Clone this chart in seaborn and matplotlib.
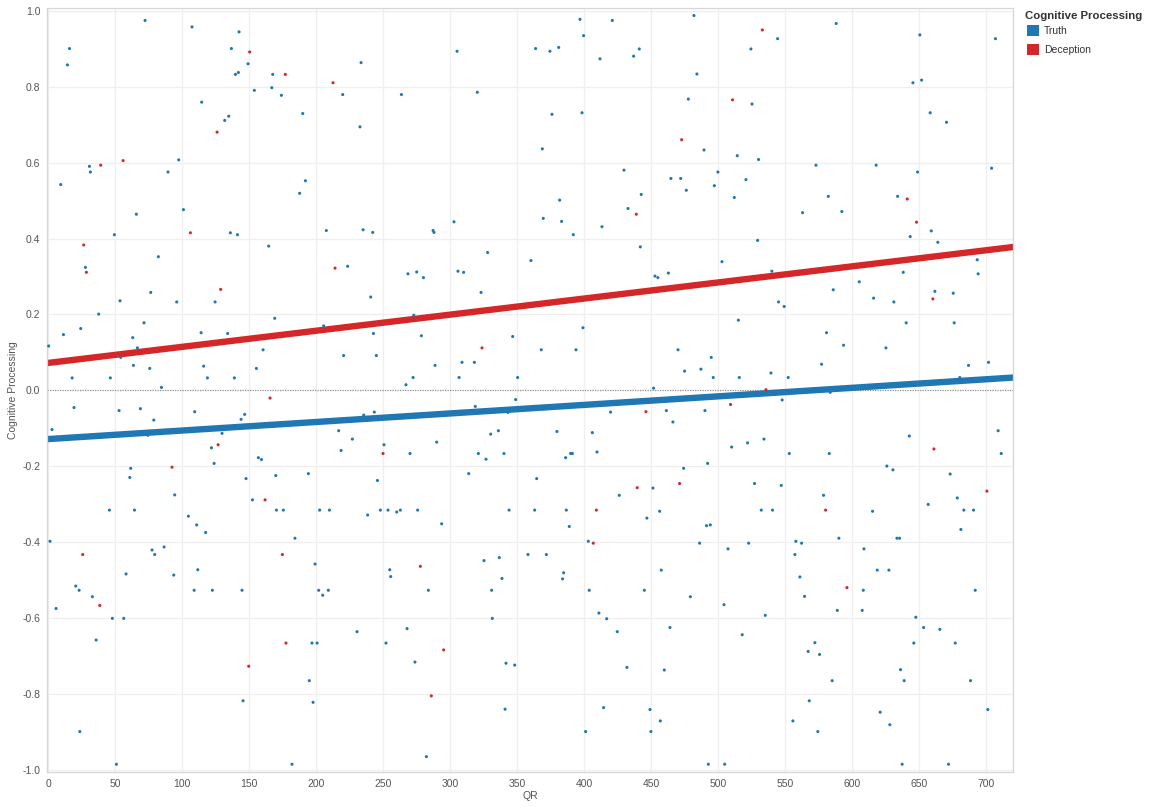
import numpy as np
import pandas as pd
import matplotlib
matplotlib.use("Agg")
import matplotlib.pyplot as plt
from matplotlib.patches import Rectangle
import seaborn as sns

# ---------------- data ----------------
series_names = ["Truth", "Deception"]
series_colors = ["#1F77B4", "#D62728"]

truth_qr = [72.4, 107.4, 142.5, 16.0, 136.8, 14.5, 149.2, 139.8, 142.0, 167.6, 153.9, 166.9, 174.1, 114.6,
            134.8, 131.8, 97.5, 30.9, 31.6, 89.5, 9.5, 65.9, 101.0, 49.5, 136.0, 141.3, 164.6, 82.3,
            233.5, 305.1, 219.8, 263.6, 320.2, 190.0, 232.7, 192.0, 187.7, 207.6, 235.0, 242.2, 287.2,
            287.9, 302.8, 327.9,
            396.8, 420.9, 481.8, 399.5, 363.7, 374.4, 380.9, 411.7, 441.0, 436.8, 524.3, 484.0, 477.6,
            525.1, 375.9, 398.3, 368.7, 489.3, 514.1, 530.0, 429.6, 499.7, 464.6, 471.9, 497.0, 476.1,
            520.6, 511.9, 381.6, 442.5, 369.4, 383.1, 432.6, 413.2, 391.8, 441.8, 529.3, 360.2, 502.7,
            587.9, 544.2, 650.3, 706.7, 645.1, 651.6, 658.0, 670.2, 572.8, 617.7, 648.6, 703.8, 582.0,
            562.8, 592.1, 633.7, 643.1, 658.8, 663.7, 693.1,
            27.9, 76.6, 53.7, 96.0, 124.6, 37.8, 71.6, 11.5, 24.4, 63.2, 114.2, 134.0, 169.1, 0.5, 66.7,
            160.4, 54.2, 63.7, 75.9, 116.1, 155.4, 18.0, 46.5, 118.9, 139.0, 84.6, 19.4, 53.0, 68.9,
            109.4, 78.9, 146.7, 144.0, 3.0, 74.4, 129.8, 121.9, 123.9, 156.9, 159.2, 61.7, 61.0, 147.7,
            169.9, 94.5, 152.5, 45.8, 64.5, 104.7, 170.4, 175.5,
            223.5, 268.5, 275.0, 280.0, 305.8, 310.0, 240.7, 323.0, 272.8, 205.6, 242.7, 278.5, 346.6,
            220.5, 244.9, 288.7, 308.8, 318.0, 272.3, 306.6, 350.3, 267.0, 348.8, 318.7, 343.1, 243.4,
            235.5, 216.8, 227.0, 330.2, 335.9, 289.9, 250.6, 218.6, 270.0, 321.0, 340.1, 326.7, 194.2,
            313.8, 245.7, 202.6, 209.9, 238.4, 247.9, 253.6, 260.1, 262.8, 275.7, 343.9,
            452.7, 454.9, 462.7, 514.9, 399.0, 367.9, 393.8, 469.9, 494.7, 474.8, 487.0, 496.2, 515.6,
            539.2, 451.7, 419.6, 461.2, 490.0, 466.1, 379.6, 406.0, 509.9, 521.8, 534.0, 386.1, 389.8,
            391.1, 409.5, 492.0, 474.1, 364.5, 527.0, 451.2, 426.1, 363.0, 386.6, 532.0, 456.2, 446.7,
            539.9, 637.9, 693.8, 605.1, 585.7, 661.5, 675.2, 615.8, 630.9, 544.9, 549.1, 640.1, 675.9,
            580.7, 593.4, 625.0, 577.0, 686.6, 701.5, 552.1, 680.1, 583.4, 547.6, 642.4, 708.7, 711.0,
            552.9, 582.7, 625.7, 630.2, 672.9, 546.9, 578.5, 678.2, 656.5, 540.4, 615.0, 683.1, 690.3,
            110.9, 117.6, 1.5, 77.6, 79.6, 86.6, 58.2, 93.8, 111.7, 20.7, 23.2, 33.1, 6.0, 109.0, 122.6,
            144.7, 48.0, 56.5, 35.9, 145.5, 23.7, 51.0,
            293.6, 184.2, 199.2, 254.9, 255.6, 201.9, 209.1, 204.9, 283.7, 325.2, 336.6, 338.6, 330.9,
            358.0, 331.4, 267.8, 230.5, 196.9, 200.7, 252.1, 273.7, 341.6, 348.1, 194.9, 197.7, 340.9,
            282.2, 182.0,
            388.8, 491.2, 494.0, 403.0, 486.0, 522.6, 507.2, 371.7, 384.6, 383.8, 457.4, 403.7, 444.8,
            479.1, 504.2, 535.0, 410.9, 416.7, 424.6, 463.9, 517.8, 431.8, 459.7, 414.4, 449.0, 456.7,
            401.0, 449.7, 492.5, 504.7,
            680.9, 589.9, 633.2, 635.2, 557.8, 562.1, 608.6, 557.1, 618.5, 627.2, 560.8, 608.1, 691.6,
            564.3, 588.7, 607.3, 647.3, 653.1, 665.2, 572.0, 567.0, 575.5, 645.8, 676.7, 584.9, 635.9,
            638.6, 688.1, 567.8, 555.6, 574.2, 620.7, 627.9, 701.0, 637.1, 671.7]

truth_cp = [0.974, 0.957, 0.944, 0.900, 0.900, 0.857, 0.860, 0.832, 0.837, 0.832, 0.790, 0.797, 0.777, 0.759,
            0.722, 0.711, 0.607, 0.590, 0.575, 0.575, 0.542, 0.464, 0.476, 0.410, 0.415, 0.410, 0.380, 0.352,
            0.863, 0.893, 0.779, 0.779, 0.785, 0.729, 0.694, 0.552, 0.519, 0.421, 0.423, 0.416, 0.421,
            0.416, 0.444, 0.363,
            0.977, 0.974, 0.987, 0.934, 0.900, 0.893, 0.903, 0.873, 0.899, 0.880, 0.899, 0.833, 0.767,
            0.754, 0.727, 0.731, 0.636, 0.633, 0.618, 0.608, 0.580, 0.575, 0.558, 0.558, 0.539, 0.527,
            0.555, 0.508, 0.501, 0.516, 0.453, 0.445, 0.479, 0.431, 0.410, 0.378, 0.395, 0.342, 0.339,
            0.966, 0.926, 0.936, 0.926, 0.810, 0.817, 0.731, 0.706, 0.593, 0.593, 0.575, 0.585, 0.511,
            0.468, 0.471, 0.511, 0.405, 0.420, 0.390, 0.344,
            0.324, 0.258, 0.236, 0.233, 0.233, 0.201, 0.178, 0.147, 0.163, 0.139, 0.152, 0.150, 0.190, 0.117, 0.112,
            0.107, 0.087, 0.066, 0.058, 0.064, 0.058, 0.033, 0.033, 0.033, 0.033, 0.008, -0.045, -0.053, -0.048,
            -0.056, -0.078, -0.063, -0.076, -0.103, -0.118, -0.113, -0.151, -0.192, -0.177, -0.182, -0.205, -0.229, -0.232,
            -0.224, -0.275, -0.288, -0.315, -0.315, -0.331, -0.315, -0.315,
            0.327, 0.307, 0.312, 0.297, 0.314, 0.311, 0.246, 0.258, 0.198, 0.170, 0.150, 0.144, 0.142,
            0.092, 0.092, 0.066, 0.074, 0.074, 0.034, 0.034, 0.034, 0.015, -0.024, -0.042, -0.058, -0.057,
            -0.065, -0.106, -0.128, -0.115, -0.106, -0.136, -0.143, -0.158, -0.166, -0.166, -0.166, -0.181, -0.219,
            -0.219, -0.237, -0.315, -0.315, -0.328, -0.315, -0.315, -0.320, -0.315, -0.315, -0.315,
            0.301, 0.297, 0.309, 0.185, 0.165, 0.107, 0.107, 0.107, 0.087, 0.051, 0.056, 0.034, 0.034,
            0.046, 0.006, -0.057, -0.053, -0.053, -0.083, -0.108, -0.111, -0.149, -0.138, -0.128, -0.177, -0.166,
            -0.166, -0.162, -0.192, -0.205, -0.232, -0.245, -0.257, -0.276, -0.315, -0.315, -0.315, -0.318, -0.336,
            0.314, 0.311, 0.307, 0.286, 0.265, 0.261, 0.256, 0.243, 0.233, 0.233, 0.221, 0.178, 0.178,
            0.152, 0.119, 0.112, 0.069, 0.066, 0.074, 0.034, 0.034, -0.005, -0.025, -0.120, -0.106, -0.166,
            -0.166, -0.166, -0.199, -0.209, -0.220, -0.250, -0.276, -0.283, -0.300, -0.315, -0.318, -0.315, -0.315,
            -0.354, -0.374, -0.397, -0.420, -0.432, -0.412, -0.483, -0.486, -0.472, -0.515, -0.526, -0.543, -0.574, -0.526, -0.526,
            -0.526, -0.600, -0.600, -0.657, -0.817, -0.898, -0.984,
            -0.351, -0.389, -0.457, -0.472, -0.490, -0.526, -0.526, -0.539, -0.526, -0.448, -0.440, -0.495, -0.526,
            -0.432, -0.600, -0.627, -0.635, -0.665, -0.665, -0.665, -0.715, -0.718, -0.723, -0.764, -0.821, -0.839,
            -0.964, -0.984,
            -0.358, -0.356, -0.354, -0.397, -0.402, -0.402, -0.417, -0.432, -0.480, -0.496, -0.473, -0.526, -0.526,
            -0.543, -0.564, -0.592, -0.586, -0.601, -0.635, -0.624, -0.643, -0.729, -0.736, -0.835, -0.840, -0.870,
            -0.898, -0.898, -0.984, -0.984,
            -0.366, -0.389, -0.389, -0.389, -0.397, -0.402, -0.417, -0.432, -0.473, -0.473, -0.491, -0.526, -0.526,
            -0.542, -0.579, -0.579, -0.597, -0.624, -0.629, -0.664, -0.687, -0.695, -0.665, -0.665, -0.764, -0.735,
            -0.764, -0.764, -0.817, -0.870, -0.898, -0.847, -0.880, -0.840, -0.984, -0.984]

deception_qr = [177.0, 150.4, 56.0, 39.3, 106.2, 26.6, 126.1, 212.6, 532.8, 510.6, 472.6, 438.8, 640.9, 647.8,
                28.6, 128.8, 165.6, 126.9, 92.5, 161.9, 214.1, 323.7, 249.9, 535.5, 446.0, 509.1, 471.1,
                439.5, 409.0, 660.0, 660.8, 700.3, 580.0, 25.9, 174.8, 38.6, 149.7, 277.7, 177.5, 295.1,
                285.9, 406.7, 595.9]
deception_cp = [0.832, 0.891, 0.605, 0.593, 0.415, 0.383, 0.680, 0.810, 0.949, 0.765, 0.660, 0.464, 0.504, 0.443,
                0.311, 0.266, -0.020, -0.143, -0.202, -0.288, 0.322, 0.112, -0.166, 0.002, -0.056, -0.037, -0.245,
                -0.256, -0.315, 0.241, -0.154, -0.265, -0.315, -0.432, -0.432, -0.566, -0.726, -0.463, -0.665, -0.683,
                -0.804, -0.402, -0.519]

# linear trend lines (intercept at QR=0, slope per QR unit) as drawn in the reference
trend_intercepts = [-0.128, 0.0724]
trend_slopes = [0.000225, 0.000424]

x_ticks = list(range(0, 701, 50))
y_ticks = [-1.0, -0.8, -0.6, -0.4, -0.2, 0.0, 0.2, 0.4, 0.6, 0.8, 1.0]
x_label = "QR"
y_label = "Cognitive Processing"
legend_title = "Cognitive Processing"

# ---------------- build frame ----------------
df = pd.DataFrame({
    "QR": truth_qr + deception_qr,
    "CP": truth_cp + deception_cp,
    "Type": ["Truth"] * len(truth_qr) + ["Deception"] * len(deception_qr),
})

sns.set_style("white")
plt.rcParams["font.family"] = ["Liberation Sans", "DejaVu Sans"]

fig = plt.figure(figsize=(11.49, 8.07), dpi=100)
ax = fig.add_axes([0.0412, 0.0431, 0.8407, 0.9466])

xlim = (-0.5, 720.0)
ylim = (-1.005, 1.006)

# grid
for xv in x_ticks:
    ax.axvline(xv, color="#EFEFEF", lw=0.9, zorder=0)
for yv in y_ticks:
    if abs(yv) > 1e-9:
        ax.axhline(yv, color="#EFEFEF", lw=0.9, zorder=0)
ax.axhline(0, color="#8C8C8C", lw=0.9, ls=(0, (1, 1)), zorder=1)

# trend lines
xs = np.array(xlim)
for name, col, b0, b1 in zip(series_names, series_colors, trend_intercepts, trend_slopes):
    sns.lineplot(x=xs, y=b0 + b1 * xs, color=col, lw=4.6, ax=ax, zorder=2,
                 solid_capstyle="butt")

# points
sns.scatterplot(data=df, x="QR", y="CP", hue="Type", hue_order=series_names,
                palette=series_colors, marker="o", s=5, linewidth=0,
                ax=ax, legend=False, zorder=3)

ax.set_xlim(*xlim)
ax.set_ylim(*ylim)
ax.set_xticks(x_ticks)
ax.set_xticklabels([str(v) for v in x_ticks])
ax.set_yticks(y_ticks)
ax.set_yticklabels(["%.1f" % v for v in y_ticks])
ax.tick_params(axis="both", labelsize=7.5, labelcolor="#555555", color="#CCCCCC",
               length=3, width=0.8, pad=2)
ax.set_xlabel(x_label, fontsize=7.5, color="#555555", labelpad=1)
ax.set_ylabel(y_label, fontsize=7.5, color="#555555", labelpad=3)

for side, sp in ax.spines.items():
    sp.set_color("#D6D6D6")
    sp.set_linewidth(0.9)
    sp.set_visible(True)

# legend (right side)
W, H = 1149.0, 807.0
fig.text(1025 / W, 1 - 16 / H, legend_title, fontsize=8.2, fontweight="bold",
         color="#333333", ha="left", va="center")
for i, (name, col) in enumerate(zip(series_names, series_colors)):
    ytop = 25 + i * 19
    fig.patches.append(Rectangle((1027 / W, 1 - (ytop + 11) / H), 12 / W, 11 / H,
                                 transform=fig.transFigure, facecolor=col, edgecolor="none"))
    fig.text(1044 / W, 1 - (ytop + 6) / H, name, fontsize=7.5, color="#333333",
             ha="left", va="center")

fig.savefig("out.png", dpi=100)
